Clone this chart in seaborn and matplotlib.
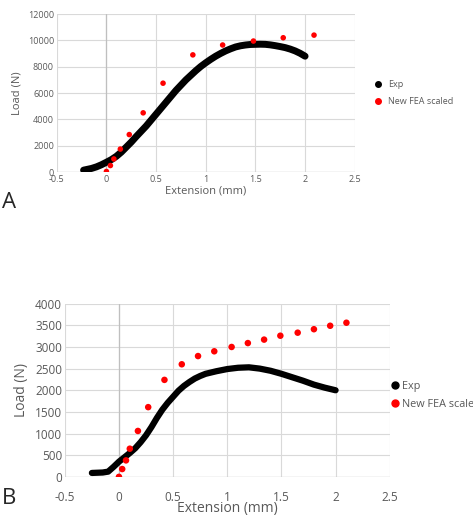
import numpy as np
import pandas as pd
import matplotlib
matplotlib.use('Agg')
import matplotlib.pyplot as plt
import seaborn as sns

# panel A
exp_a_x = [-0.23, -0.15, -0.1, -0.05, 0, 0.05, 0.1, 0.15, 0.2, 0.25, 0.3, 0.35, 0.4, 0.45, 0.5, 0.55, 0.6, 0.65, 0.7, 0.75,
           0.8, 0.85, 0.9, 0.95, 1.0, 1.05, 1.1, 1.15, 1.2, 1.25, 1.3, 1.35, 1.4, 1.45, 1.5, 1.55, 1.6, 1.65, 1.7, 1.75,
           1.8, 1.85, 1.9, 1.95, 2.0]
exp_a_y = [150, 280, 400, 560, 750, 950, 1200, 1520, 1900, 2280, 2700, 3100, 3500, 3950, 4400, 4850, 5300, 5750, 6200, 6600,
           7000, 7350, 7700, 8020, 8300, 8560, 8800, 9010, 9200, 9360, 9500, 9590, 9650, 9690, 9700, 9710, 9700, 9660, 9600, 9530,
           9450, 9340, 9200, 9020, 8800]
fea_a_x = [0, 0.04, 0.075, 0.14, 0.23, 0.37, 0.57, 0.87, 1.17, 1.48, 1.78, 2.09]
fea_a_y = [50, 500, 1000, 1750, 2850, 4500, 6750, 8900, 9650, 9950, 10200, 10400]

# panel B
exp_b_x = [-0.25, -0.2, -0.15, -0.1, -0.05, 0, 0.05, 0.1, 0.15, 0.2, 0.25, 0.3, 0.35, 0.4, 0.45, 0.5, 0.55, 0.6, 0.65, 0.7,
           0.75, 0.8, 0.9, 1.0, 1.1, 1.2, 1.3, 1.4, 1.5, 1.6, 1.7, 1.8, 1.9, 2.0]
exp_b_y = [90, 95, 100, 120, 230, 350, 450, 550, 660, 800, 960, 1150, 1360, 1550, 1710, 1850, 1990, 2100, 2190, 2270,
           2330, 2380, 2440, 2490, 2520, 2530, 2500, 2450, 2380, 2300, 2220, 2130, 2060, 2000]
fea_b_x = [0, 0.03, 0.065, 0.1, 0.175, 0.27, 0.42, 0.58, 0.73, 0.88, 1.04, 1.19, 1.34, 1.49, 1.65, 1.8, 1.95, 2.1]
fea_b_y = [0, 180, 380, 650, 1060, 1610, 2240, 2600, 2790, 2900, 3000, 3090, 3170, 3260, 3330, 3410, 3490, 3560]

sns.set_style('white')
plt.rcParams['font.family'] = ['Open Sans', 'DejaVu Sans']

fig = plt.figure(figsize=(4.73, 5.2), dpi=100)
ax_a = fig.add_axes([0.12, 0.669, 0.63, 0.304])
ax_b = fig.add_axes([0.137, 0.083, 0.687, 0.333])


def style(ax, ymax, ystep, fs, lfs, xlabel_pad):
    ax.set_xlim(-0.5, 2.5)
    ax.set_ylim(0, ymax)
    ax.set_xticks(np.arange(-0.5, 2.51, 0.5))
    ax.set_xticklabels(['-0.5', '0', '0.5', '1', '1.5', '2', '2.5'])
    ax.set_yticks(np.arange(0, ymax + 1, ystep))
    ax.grid(True, color='#d9d9d9', lw=0.8)
    ax.axvline(0, color='#bfbfbf', lw=0.9, zorder=1)
    ax.axhline(0, color='#bfbfbf', lw=0.9, zorder=1)
    for s in ax.spines.values():
        s.set_visible(False)
    ax.tick_params(length=0, labelsize=fs, colors='#595959', pad=2)
    ax.set_xlabel('Extension (mm)', fontsize=lfs, color='#595959', labelpad=xlabel_pad)
    ax.set_ylabel('Load (N)', fontsize=lfs, color='#595959')


def draw(ax, ex, ey, fx, fy, ms, lw):
    sns.lineplot(x=ex, y=ey, ax=ax, color='black', lw=lw, sort=False, label='Exp', zorder=3)
    sns.scatterplot(x=fx, y=fy, ax=ax, color='red', s=ms, edgecolor='none', label='New FEA scaled', zorder=4)


draw(ax_a, exp_a_x, exp_a_y, fea_a_x, fea_a_y, 16, 5)
style(ax_a, 12000, 2000, 6.5, 8, 1)
h = [plt.Line2D([], [], marker='o', ls='', color='black', ms=4),
     plt.Line2D([], [], marker='o', ls='', color='red', ms=4)]
ax_a.legend(h, ['Exp', 'New FEA scaled'], loc='center left', bbox_to_anchor=(1.02, 0.5), frameon=False,
            fontsize=6.5, handletextpad=0.1, labelcolor='#595959', labelspacing=0.8)

draw(ax_b, exp_b_x, exp_b_y, fea_b_x, fea_b_y, 22, 4.5)
style(ax_b, 4000, 500, 8.5, 10, -2)
h = [plt.Line2D([], [], marker='o', ls='', color='black', ms=5),
     plt.Line2D([], [], marker='o', ls='', color='red', ms=5)]
ax_b.legend(h, ['Exp', 'New FEA scaled'], loc='center left', bbox_to_anchor=(0.965, 0.47), frameon=False,
            fontsize=7.8, handletextpad=0.05, handlelength=1.2, labelcolor='#595959', labelspacing=0.6)
ax_b.tick_params(axis='x', pad=10)

fig.text(0.005, 0.6, 'A', fontsize=16)
fig.text(0.005, 0.03, 'B', fontsize=16)

fig.savefig('out.png', dpi=100)
